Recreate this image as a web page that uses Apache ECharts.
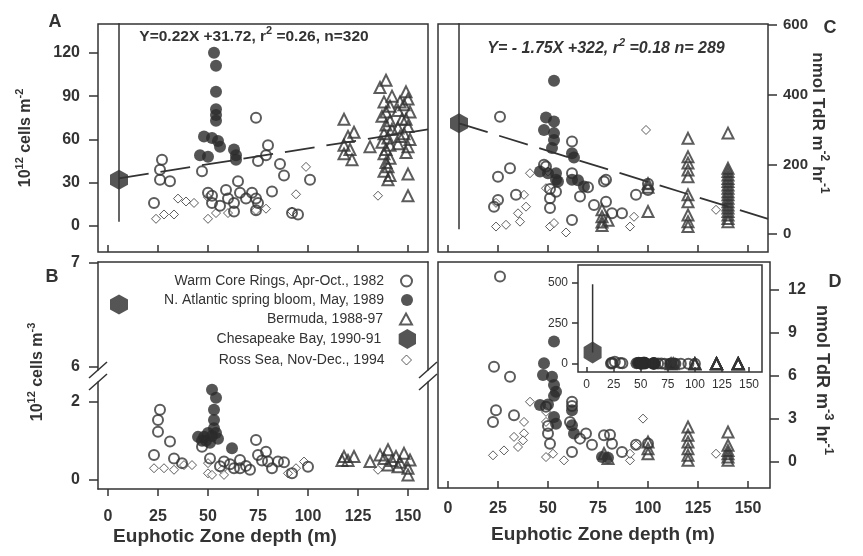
<!DOCTYPE html>
<html>
<head>
<meta charset="utf-8">
<script src="https://cdn.jsdelivr.net/npm/echarts@6.0.0/dist/echarts.min.js"></script>
<style>html,body{margin:0;padding:0;background:#fff}#chartmain{width:863px;height:556px}</style>
</head>
<body>
<div id="chartmain"></div>
<script>
// series names (legend)
var NAMES = ['Warm Core Rings, Apr-Oct., 1982', 'N. Atlantic spring bloom, May, 1989',
  'Bermuda, 1988-97', 'Chesapeake Bay, 1990-91', 'Ross Sea, Nov-Dec., 1994'];

// tick labels
var depthTicks = [0, 25, 50, 75, 100, 125, 150];
var ticksA = [0, 30, 60, 90, 120];
var ticksBup = [6, 7];
var ticksBlow = [0, 2];
var ticksC = [0, 200, 400, 600];
var ticksD = [0, 3, 6, 9, 12];
var ticksInset = [0, 250, 500];

// panel A: 10^12 cells m-2  [depth, value]
var warmA = [[23,16],[26,32],[27,46],[26,39],[31,31],[47,38],[50,23],[52,16],[59,25],[60,19],[63,16],[63,10],[65,31],[66,23],[69,19],[72,23],[74,19],[75,16],[74,11],[82,24],[74,75],[80,56],[79,49],[75,45],[86,43],[88,35],[101,32],[95,8],[92,9],[52,21],[56,14]];
var bloomA = [[53,120],[54,111],[54,93],[54,81],[54,77],[54,73],[48,62],[52,61],[55,59],[56,55],[46,49],[50,48],[63,53],[64,49],[64,46]];
var bermA = [[118,74],[123,65],[120,62],[118,56],[121,53],[118,50],[122,46],[131,55],[139,101],[136,96],[142,90],[138,86],[141,83],[139,79],[137,76],[141,73],[139,70],[142,67],[138,64],[140,61],[137,58],[141,56],[139,53],[138,50],[141,47],[139,44],[140,41],[138,38],[141,35],[140,32],[146,86],[145,80],[147,74],[145,68],[146,62],[145,57],[149,93],[150,88],[148,84],[151,79],[149,74],[150,69],[148,64],[151,60],[150,55],[149,51],[150,36],[150,21]];
var chesA = [[5.5,32]];
var rossA = [[24,5],[28,8],[33,8],[35,19],[39,17],[43,16],[50,20],[50,5],[54,9],[60,9],[74,11],[79,12],[94,22],[92,10],[99,41],[135,21]];
var errA = [[5.5,3],[5.5,150]];
var fitA = [[5.5,33],[160,67]];

// panel B: 10^12 cells m-3
var warmB = [[26,1.79],[25,1.53],[25,1.23],[31,0.98],[23,0.64],[33,0.55],[37,0.43],[47,0.85],[51,0.55],[58,0.47],[61,0.4],[66,0.51],[66,0.3],[71,0.26],[74,1.02],[75,0.64],[79,0.72],[80,0.47],[85,0.47],[82,0.3],[92,0.17],[100,0.34],[63,0.3],[69,0.36],[77,0.5],[88,0.45],[56,0.35]];
var bloomB = [[52,2.3],[54,2.1],[53,1.79],[53,1.53],[53,1.32],[45,1.1],[48,1.1],[52,1.12],[55,1.05],[49,1.0],[47,1.0],[51,0.95],[62,0.81],[50,1.2],[54,1.2]];
var bermB = [[118,0.6],[123,0.6],[120,0.5],[117,0.5],[131,0.47],[136,0.64],[140,0.77],[144,0.6],[148,0.68],[151,0.51],[140,0.38],[145,0.34],[150,0.13],[142,0.5],[146,0.45],[138,0.55],[150,0.3]];
var chesB = [[5.5,6.6]];
var rossB = [[23,0.3],[28,0.3],[33,0.26],[38,0.38],[42,0.38],[50,0.43],[50,0.17],[52,0.13],[57,0.26],[58,0.13],[90,0.17],[94,0.3],[98,0.47],[135,0.26]];

// panel C: nmol TdR m-2 hr-1
var warmC = [[26,337],[25,165],[31,189],[25,98],[23,79],[34,113],[49,194],[48,199],[51,130],[51,103],[51,75],[62,266],[62,175],[62,41],[66,108],[70,135],[73,84],[78,151],[79,156],[79,93],[87,60],[82,60],[94,113],[100,127],[54,122],[100,145]];
var bloomC = [[53,440],[49,335],[53,323],[48,299],[53,290],[53,270],[52,247],[62,232],[63,220],[46,180],[54,175],[54,156],[68,137],[65,155],[50,175],[55,151],[62,156]];
var bermC = [[120,275],[120,222],[120,204],[120,184],[120,165],[120,113],[120,93],[120,55],[120,36],[120,22],[140,290],[140,189],[140,180],[140,170],[140,160],[140,151],[140,141],[140,132],[140,122],[140,113],[140,103],[140,93],[140,84],[140,75],[140,65],[140,55],[140,45],[140,36],[100,145],[100,135],[100,65],[77,70],[77,50],[77,35],[77,25],[80,40]];
var chesC = [[5.5,318]];
var rossC = [[99,299],[41,175],[50,180],[49,132],[38,113],[39,79],[35,60],[24,22],[29,27],[36,36],[51,22],[53,32],[59,5],[24,90],[93,50],[91,22],[134,70]];
var errC = [[5.5,14],[5.5,700]];
var fitC = [[5.5,318],[160,44]];

// panel D: nmol TdR m-3 hr-1
var warmD = [[26,12.9],[23,6.63],[31,5.93],[24,3.6],[22.5,2.79],[33,3.26],[49,3.84],[50,1.98],[51,1.28],[62,4.19],[61,2.79],[62,0.7],[66,1.63],[69,1.98],[72,1.2],[78,1.86],[82,1.28],[87,0.7],[94,1.2],[50,2.5],[62,3.9],[81,1.9],[100,1.3]];
var bloomD = [[53,8.37],[48,6.86],[47.5,6.05],[52,5.93],[53,5.35],[54,4.88],[53,4.6],[46,3.96],[53,3.14],[54,2.67],[62,2.56],[63,1.98],[62,3.6],[77,0.35],[80,0.3],[50,4.0]];
var bermD = [[100,1.4],[100,0.93],[100,0.58],[120,2.44],[120,1.86],[120,1.4],[120,0.93],[120,0.47],[120,0.12],[140,2.09],[140,1.17],[140,0.58],[140,0.12],[140,0.8],[140,0.35],[78,0.6],[80,0.25]];
var rossD = [[97.5,3.02],[41,4.19],[49,3.49],[49,2.79],[38,2.79],[38,2.0],[37.5,1.51],[33,1.75],[35,1.05],[28,0.81],[22.5,0.47],[49,0.35],[52.5,0.58],[58,0.12],[91,0.12],[91,0.58],[94,1.16],[134,0.58]];
// inset of D (includes Chesapeake)
var chesInset = [[5.5,70]];
var errInset = [[5.5,70],[5.5,490]];

var INK = '#333';
var FILL = '#2a2a2a';
var FONT = '"Liberation Sans", Arial, sans-serif';
var HEX = 'path://M0,-1L0.866,-0.5L0.866,0.5L0,1L-0.866,0.5L-0.866,-0.5Z';
var CLEAR = 'rgba(255,255,255,0)';

var stWarm = {symbol: 'circle', symbolSize: 10, itemStyle: {color: CLEAR, borderColor: INK, borderWidth: 2}};
var stBloom = {symbol: 'circle', symbolSize: 12, itemStyle: {color: FILL}};
var stBerm = {symbol: 'triangle', symbolSize: 11, itemStyle: {color: CLEAR, borderColor: INK, borderWidth: 2}};
var stChes = {symbol: HEX, symbolSize: [18, 20], itemStyle: {color: FILL}};
var stRoss = {symbol: 'diamond', symbolSize: 9, itemStyle: {color: '#fff', borderColor: INK, borderWidth: 1}};

function sc(name, data, xi, yi, st) {
  return Object.assign({type: 'scatter', name: name, data: data, xAxisIndex: xi, yAxisIndex: yi, silent: true}, st);
}
function ln(data, xi, yi, dash) {
  return {type: 'line', name: 'line', data: data, xAxisIndex: xi, yAxisIndex: yi, symbol: 'none', silent: true,
    lineStyle: {color: INK, width: dash ? 1.8 : 1.5, type: dash ? [30, 12] : 'solid'}, clip: true};
}

var axLine = {color: INK, width: 1.5};
var bold16 = {color: INK, fontSize: 16, fontWeight: 'bold', fontFamily: FONT};
var bold15 = {color: INK, fontSize: 15, fontWeight: 'bold', fontFamily: FONT};
var norm12 = {color: INK, fontSize: 12, fontFamily: FONT};

function xAx(grid, min, max, o) {
  return Object.assign({gridIndex: grid, type: 'value', min: min, max: max, splitLine: {show: false},
    axisLine: {show: false, onZero: false}, axisTick: {show: false}, axisLabel: {show: false}}, o);
}
var yAx = xAx;

function ticks(vals, inside, len) {
  return {show: true, inside: inside, length: len, customValues: vals, lineStyle: axLine};
}
function labels(vals, margin, style) {
  return Object.assign({show: true, customValues: vals, margin: margin}, style);
}

var xAxes = [
  xAx(0, -5, 160, {axisTick: ticks(depthTicks, true, 7)}),
  xAx(1, -5, 160, {position: 'top', axisLine: {show: true, onZero: false, lineStyle: axLine}}),
  xAx(2, -5, 160, {position: 'bottom', axisLine: {show: true, onZero: false, lineStyle: axLine},
    axisTick: ticks(depthTicks, false, 7), axisLabel: labels(depthTicks, 20, bold16)}),
  xAx(3, -5, 160, {axisTick: ticks(depthTicks, true, 7)}),
  xAx(4, -5, 161, {axisTick: ticks(depthTicks, true, 7), axisLabel: labels(depthTicks, 13, bold16)}),
  xAx(5, -8, 162, {axisTick: ticks(depthTicks, true, 5), axisLabel: labels(depthTicks, 7, norm12)})
];

var yAxes = [
  yAx(0, -18, 140, {position: 'left', axisTick: ticks(ticksA, false, 9), axisLabel: labels(ticksA, 18, bold16)}),
  yAx(1, 5.97, 7.01, {position: 'left', axisLine: {show: true, onZero: false, lineStyle: axLine},
    axisTick: ticks(ticksBup, false, 9), axisLabel: labels(ticksBup, 18, bold16)}),
  yAx(1, 5.97, 7.01, {position: 'right', axisLine: {show: true, onZero: false, lineStyle: axLine}}),
  yAx(2, -0.23, 2.5, {position: 'left', axisLine: {show: true, onZero: false, lineStyle: axLine},
    axisTick: ticks(ticksBlow, false, 9), axisLabel: labels(ticksBlow, 18, bold16)}),
  yAx(2, -0.23, 2.5, {position: 'right', axisLine: {show: true, onZero: false, lineStyle: axLine}}),
  yAx(3, -51, 603, {position: 'right', axisTick: ticks(ticksC, false, 9), axisLabel: labels(ticksC, 15, bold15)}),
  yAx(4, -1.8, 13.9, {position: 'right', axisTick: ticks(ticksD, false, 9), axisLabel: labels(ticksD, 18, bold16)}),
  yAx(5, -50, 608, {position: 'left', axisTick: ticks(ticksInset, false, 6), axisLabel: labels(ticksInset, 10, norm12)})
];

var boxed = {show: true, borderColor: INK, borderWidth: 1.5, backgroundColor: 'transparent'};
var grids = [
  Object.assign({left: 98, top: 24, width: 330, height: 228}, boxed),
  {left: 98, top: 262, width: 330, height: 108},
  {left: 98, top: 382, width: 330, height: 107},
  Object.assign({left: 438, top: 24, width: 330, height: 228}, boxed),
  Object.assign({left: 438, top: 262, width: 332, height: 226}, boxed),
  Object.assign({left: 578, top: 265, width: 184, height: 107}, boxed, {backgroundColor: '#fff'})
];

var series = [
  ln(fitA, 0, 0, true), ln(errA, 0, 0, false),
  sc(NAMES[3], chesA, 0, 0, stChes),
  sc(NAMES[4], rossA, 0, 0, stRoss),
  sc(NAMES[0], warmA, 0, 0, stWarm),
  sc(NAMES[1], bloomA, 0, 0, stBloom),
  sc(NAMES[2], bermA, 0, 0, stBerm),

  sc(NAMES[3], chesB, 1, 1, stChes),
  sc(NAMES[4], rossB, 2, 3, stRoss),
  sc(NAMES[0], warmB, 2, 3, stWarm),
  sc(NAMES[1], bloomB, 2, 3, stBloom),
  sc(NAMES[2], bermB, 2, 3, stBerm),

  ln(fitC, 3, 5, true), ln(errC, 3, 5, false),
  sc(NAMES[3], chesC, 3, 5, stChes),
  sc(NAMES[4], rossC, 3, 5, stRoss),
  sc(NAMES[0], warmC, 3, 5, stWarm),
  sc(NAMES[1], bloomC, 3, 5, stBloom),
  sc(NAMES[2], bermC, 3, 5, stBerm),

  sc(NAMES[4], rossD, 4, 6, stRoss),
  sc(NAMES[0], warmD, 4, 6, stWarm),
  sc(NAMES[1], bloomD, 4, 6, stBloom),
  sc(NAMES[2], bermD, 4, 6, stBerm),

  ln(errInset, 5, 7, false),
  sc(NAMES[3], chesInset, 5, 7, {symbol: HEX, symbolSize: [18, 22], itemStyle: {color: FILL}}),
  sc(NAMES[0], warmD, 5, 7, stWarm),
  sc(NAMES[1], bloomD, 5, 7, stBloom),
  sc(NAMES[2], bermD, 5, 7, stBerm)
];

// legend, one block per row so the hexagon can be larger
var legendRows = [
  {name: NAMES[0], icon: 'circle', top: 269, size: [11, 11], right: 445, style: {color: CLEAR, borderColor: INK, borderWidth: 2}},
  {name: NAMES[1], icon: 'circle', top: 288, size: [12, 12], right: 445, style: {color: FILL}},
  {name: NAMES[2], icon: 'triangle', top: 307, size: [12, 11], right: 445, style: {color: CLEAR, borderColor: INK, borderWidth: 2}},
  {name: NAMES[3], icon: HEX, top: 324, size: [18, 20], right: 442, style: {color: FILL}},
  {name: NAMES[4], icon: 'diamond', top: 348, size: [10, 10], right: 446, style: {color: '#fff', borderColor: INK, borderWidth: 1}}
];
var legends = legendRows.map(function (r) {
  return {
    data: [{name: r.name, icon: r.icon, itemStyle: r.style}],
    orient: 'vertical', align: 'right', right: r.right, top: r.top,
    itemWidth: r.size[0], itemHeight: r.size[1], selectedMode: false,
    textStyle: {color: INK, fontSize: 14, fontFamily: FONT, padding: [0, 12, 0, 0]}
  };
});

function txt(x, y, text, size, opts) {
  opts = opts || {};
  var sup = {fontSize: Math.round(size * 0.7), fontWeight: opts.weight || 'bold', fontStyle: opts.italic ? 'italic' : 'normal',
    fontFamily: FONT, verticalAlign: 'top', lineHeight: 10, fill: INK};
  return {
    type: 'text', x: x, y: y, rotation: opts.rot || 0, silent: true,
    style: {
      text: text, fill: INK, fontSize: size, fontWeight: opts.weight || 'bold',
      fontStyle: opts.italic ? 'italic' : 'normal', fontFamily: FONT, lineHeight: size + 8,
      align: 'center', verticalAlign: 'middle', textAlign: 'center', textVerticalAlign: 'middle',
      rich: {s: sup}
    }
  };
}
function brk(x, y) {
  var st = {stroke: INK, lineWidth: 1.5};
  return [
    {type: 'line', silent: true, shape: {x1: x - 9, y1: y + 8, x2: x + 9, y2: y - 8}, style: st},
    {type: 'line', silent: true, shape: {x1: x - 9, y1: y + 20, x2: x + 9, y2: y + 4}, style: st}
  ];
}

var graphics = [
  txt(55, 22, 'A', 18), txt(52, 277, 'B', 18), txt(830, 28, 'C', 18), txt(835, 282, 'D', 18),
  txt(254, 37, 'Y=0.22X +31.72, r{s|2} =0.26, n=320', 15.5),
  txt(606, 49, 'Y= - 1.75X +322, r{s|2} =0.18 n= 289', 16, {italic: true}),
  txt(26, 138, '10{s|12} cells m{s|-2}', 16, {rot: Math.PI / 2}),
  txt(38, 372, '10{s|12} cells m{s|-3}', 16, {rot: Math.PI / 2}),
  txt(818, 123, 'nmol TdR m{s|-2} hr{s|-1}', 17, {rot: -Math.PI / 2}),
  txt(822, 380, 'nmol TdR m{s|-3} hr{s|-1}', 18, {rot: -Math.PI / 2}),
  txt(225, 537, 'Euphotic Zone depth (m)', 19),
  txt(603, 535, 'Euphotic Zone depth (m)', 19)
].concat(brk(98, 370), brk(428, 370));

var chart = echarts.init(document.getElementById('chartmain'), null, {renderer: 'canvas', width: 863, height: 556});
chart.setOption({
  backgroundColor: '#fff',
  animation: false,
  grid: grids,
  xAxis: xAxes,
  yAxis: yAxes,
  legend: legends,
  series: series,
  graphic: graphics
});
</script>
</body>
</html>
